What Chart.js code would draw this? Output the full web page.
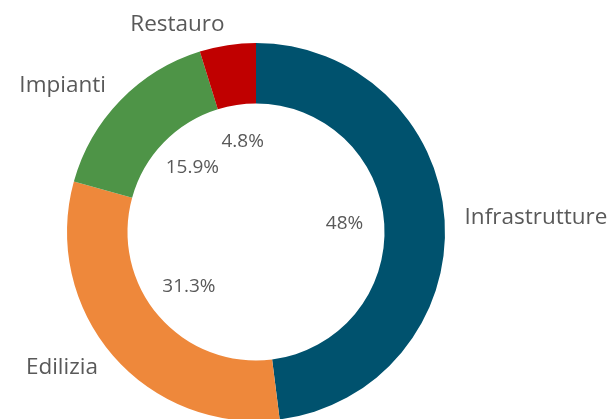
<!DOCTYPE html>
<html>
<head>
<meta charset="utf-8">
<script src="https://cdn.jsdelivr.net/npm/chart.js@4"></script>
<style>
html,body{margin:0;padding:0;background:#fff;overflow:hidden;width:615px;height:419px;}
#wrap{position:absolute;left:0;top:0;width:615px;height:462px;}
</style>
</head>
<body>
<div id="wrap"><canvas id="c" width="615" height="462"></canvas></div>
<script>
const categories = ["Infrastrutture", "Edilizia", "Impianti", "Restauro"];
const values = [48, 31.3, 15.9, 4.8];
const colors = ["#00526e", "#ee883b", "#4e9447", "#c00000"];

const labelPlugin = {
  id: 'sliceLabels',
  afterDatasetsDraw(chart) {
    const ctx = chart.ctx;
    const meta = chart.getDatasetMeta(0);
    ctx.save();
    meta.data.forEach((arc, i) => {
      const p = arc.getProps(['x','y','startAngle','endAngle','outerRadius','innerRadius'], true);
      const mid = (p.startAngle + p.endAngle) / 2;
      const c = Math.cos(mid), s = Math.sin(mid);
      // outer category label
      const ro = p.outerRadius + 20;
      ctx.font = '22.5px "Open Sans", sans-serif';
      ctx.fillStyle = '#595959';
      ctx.textBaseline = 'middle';
      ctx.textAlign = c >= 0 ? 'left' : 'right';
      ctx.fillText(categories[i], p.x + c * ro, p.y + s * ro - 1);
      // inner percentage label
      const ri = p.innerRadius * 0.69;
      ctx.font = '19px "Open Sans", sans-serif';
      ctx.fillStyle = '#595959';
      ctx.textAlign = 'center';
      ctx.fillText(values[i] + '%', p.x + c * ri, p.y + s * ri - 3);
    });
    ctx.restore();
  }
};

new Chart(document.getElementById('c'), {
  type: 'doughnut',
  data: {
    labels: categories,
    datasets: [{
      data: values,
      backgroundColor: colors,
      borderWidth: 0,
      hoverOffset: 0
    }]
  },
  options: {
    responsive: false,
    animation: false,
    cutout: '68%',
    layout: { padding: { left: 67, right: 170, top: 43, bottom: 41 } },
    plugins: {
      legend: { display: false },
      tooltip: { enabled: false }
    }
  },
  plugins: [labelPlugin]
});
</script>
</body>
</html>
